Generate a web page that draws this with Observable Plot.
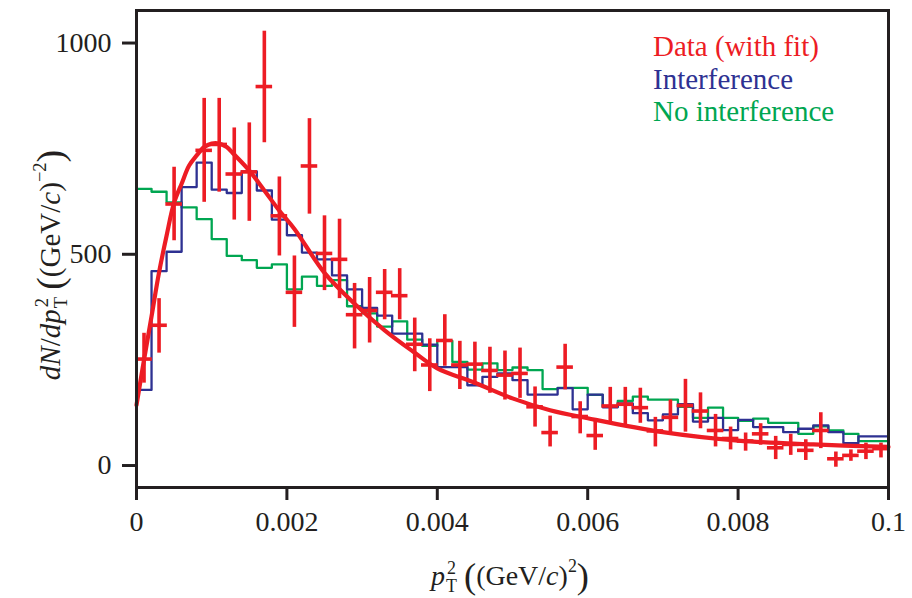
<!DOCTYPE html>
<html><head><meta charset="utf-8">
<script src="https://cdn.jsdelivr.net/npm/d3@7"></script>
<script src="https://cdn.jsdelivr.net/npm/@observablehq/plot@0.6"></script>
<style>
body{margin:0;background:#fff;}
#wrap{position:relative;width:912px;height:598px;font-family:"Liberation Serif",serif;color:#231f20;overflow:hidden;}
#wrap svg{position:absolute;left:0;top:0;}
.leg{position:absolute;left:653px;font-size:29px;line-height:33px;white-space:nowrap;}
.ss{display:inline-flex;flex-direction:column;font-size:0.64em;line-height:1.02;vertical-align:0.66em;margin-left:1px;}
.bp{font-size:1.3em;vertical-align:-0.08em;}
.sup{font-size:0.64em;vertical-align:0.75em;}
#xt{position:absolute;left:0;width:1020px;top:546px;font-size:28px;line-height:40px;text-align:center;white-space:nowrap;}
#yt{position:absolute;width:320px;height:40px;left:-120px;top:245px;font-size:29px;line-height:40px;text-align:center;white-space:nowrap;transform:rotate(-90deg);transform-origin:center;}
</style></head><body><div id="wrap"></div>
<script>
// ---- data ----
const binWidth = 0.0002;
const interference = [179,460,506,659,717,653,645,696,651,582,
  545,504,488,450,417,373,355,312,312,286,
  233,233,190,210,218,202,168,168,183,133,
  168,138,147,124,107,121,145,104,113,84,
  108,91,91,79,87,95,79,53,69,69];
const noInterference = [655,648,623,611,583,536,496,486,468,476,
  417,447,425,439,377,360,329,341,298,283,
  295,245,227,242,226,232,226,181,184,184,
  167,140,153,163,156,156,139,113,137,113,
  106,111,101,101,75,93,83,75,58,58];
const dataX = [0.0001,0.0003,0.0005,0.0009,0.0011,0.0013,0.0015,0.0017,0.0019,0.0021,
  0.0023,0.0025,0.0027,0.0029,0.0031,0.0033,0.0035,0.0037,0.0039,0.0041,
  0.0043,0.0045,0.0047,0.0049,0.0051,0.0053,0.0055,0.0057,0.0059,0.0061,
  0.0063,0.0065,0.0067,0.0069,0.0071,0.0073,0.0075,0.0077,0.0079,0.0081,
  0.0083,0.0085,0.0087,0.0089,0.0091,0.0093,0.0095,0.0097,0.0099];
const dataY = [252,332,619,746,760,690,695,897,591,410,
  709,502,488,357,367,410,402,287,238,296,
  238,240,225,214,218,139,78,233,116,71,
  141,145,137,82,114,142,129,83,64,58,
  75,42,50,36,83,16,24,34,40];
const dataLo = [195,266,532,623,647,581,578,764,496,327,
  595,414,395,276,290,345,345,222,175,235,
  180,190,171,155,159,91,44,179,75,36,
  98,90,100,44,74,79,87,44,37,34,
  48,14,24,12,40,-4,10,14,18];
const dataHi = [313,395,706,869,869,799,811,1028,683,496,
  821,591,583,431,445,464,466,349,300,357,
  294,292,280,271,278,186,117,287,151,111,
  185,185,183,114,155,204,172,121,91,77,
  99,69,74,61,125,32,37,53,53];
const fitX = [0,0.0001,0.0002,0.0003,0.0004,0.0005,0.0006,0.0007,0.0008,0.0009,0.0010,
  0.0011,0.0012,0.0013,0.0015,0.0017,0.0019,0.0021,0.0025,0.0029,0.0033,0.0037,
  0.0040,0.0045,0.0050,0.0055,0.0060,0.0070,0.0080,0.0090,0.0100];
const fitY = [143,250,353,457,544,622,667,710,734,754,762,
  762,754,736,698,651,603,560,456,383,320,267,
  230,196,159,131,112,79,59,50,44];
const xTicks = [0,0.002,0.004,0.006,0.008,0.01];
const xTickLabels = ["0","0.002","0.004","0.006","0.008","0.1"];
const yTicks = [0,500,1000];
const yTickLabels = ["0","500","1000"];
const legendLabels = ["Data (with fit)","Interference","No interference"];

const RED = "#ed1c24", BLUE = "#2e3192", GREEN = "#00a651", INK = "#231f20";

const steps = vals => {
  const a = vals.map((v,k)=>({x:k*binWidth, y:v}));
  a.push({x:vals.length*binWidth, y:vals[vals.length-1]});
  return a;
};
const points = dataX.map((x,i)=>({x, y:dataY[i], lo:dataLo[i], hi:dataHi[i]}));
const fit = fitX.map((x,i)=>({x, y:fitY[i]}));

const chart = Plot.plot({
  width:912, height:598,
  marginLeft:136, marginRight:24, marginTop:10, marginBottom:111,
  x:{domain:[0,0.01]},
  y:{domain:[-52,1077]},
  style:{fontFamily:"Liberation Serif, serif", fontSize:"28px", color:INK, background:"transparent"},
  marks:[
    Plot.lineY(steps(noInterference), {x:"x", y:"y", curve:"step-after", stroke:GREEN, strokeWidth:2.3}),
    Plot.lineY(steps(interference), {x:"x", y:"y", curve:"step-after", stroke:BLUE, strokeWidth:2.3}),
    Plot.line(fit, {x:"x", y:"y", curve:"catmull-rom", stroke:RED, strokeWidth:4.2}),
    Plot.ruleX(points, {x:"x", y1:"lo", y2:"hi", stroke:RED, strokeWidth:3.6}),
    Plot.ruleY(points, {y:"y", x1:d=>d.x-0.00011, x2:d=>d.x+0.00011, stroke:RED, strokeWidth:3.6}),
    Plot.frame({stroke:INK, strokeWidth:3}),
    Plot.axisX({ticks:xTicks, tickFormat:d=>xTickLabels[xTicks.indexOf(d)], tickSize:13, tickPadding:11, stroke:INK, strokeWidth:3, fontSize:28, fill:INK, label:null}),
    Plot.axisY({ticks:yTicks, tickFormat:d=>yTickLabels[yTicks.indexOf(d)], tickSize:14, tickPadding:11, stroke:INK, strokeWidth:3, fontSize:28, fill:INK, label:null})
  ]
});
const wrap = document.getElementById("wrap");
wrap.appendChild(chart);

const legColors = [RED, BLUE, GREEN];
legendLabels.forEach((t,i)=>{
  const d = document.createElement("div");
  d.className = "leg";
  d.style.top = (30 + i*32.5) + "px";
  d.style.color = legColors[i];
  d.textContent = t;
  wrap.appendChild(d);
});

const xt = document.createElement("div");
xt.id = "xt";
xt.innerHTML = '<i>p</i><span class="ss"><span>2</span><span>T</span></span> <span class="bp">(</span>(GeV/<i>c</i>)<span class="sup">2</span><span class="bp">)</span>';
wrap.appendChild(xt);

const yt = document.createElement("div");
yt.id = "yt";
yt.innerHTML = '<i>dN</i>/<i>dp</i><span class="ss"><span>2</span><span>T</span></span> <span class="bp">(</span>(GeV/<i>c</i>)<span class="sup">\u22122</span><span class="bp">)</span>';
wrap.appendChild(yt);
</script>
</body></html>
